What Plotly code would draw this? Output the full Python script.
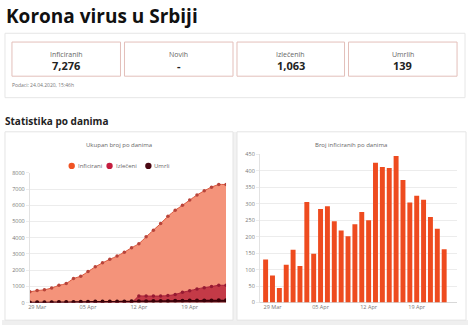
import plotly.graph_objects as go
import pandas as pd

W, H = 468, 329

# ---- data ----
line_dates = pd.date_range("2020-03-28", "2020-04-24", freq="D")
infected = [659, 741, 785, 900, 1060, 1171, 1476, 1624, 1908, 2200, 2447, 2666, 2867, 3105,
            3380, 3630, 4054, 4465, 4873, 5318, 5690, 5994, 6318, 6630, 6890, 7114, 7276, 7276]
recovered = [0, 0, 0, 0, 0, 0, 0, 0, 0, 0, 0, 0, 0, 0,
             0, 400, 400, 400, 400, 430, 500, 630, 730, 840, 920, 990, 1063, 1063]
deaths = [10, 13, 16, 23, 28, 31, 39, 44, 51, 58, 61, 65, 66, 71,
          74, 80, 85, 94, 99, 103, 110, 117, 122, 125, 130, 134, 139, 139]

bar_dates = pd.date_range("2020-03-28", "2020-04-23", freq="D")
daily_new = [131, 82, 44, 115, 160, 111, 305, 148, 284, 292, 247, 219, 201, 238,
             275, 250, 424, 411, 408, 445, 372, 304, 324, 312, 260, 224, 162]

card_labels = ["Inficiranih", "Novih", "Izlečenih", "Umrlih"]
card_values = ["7,276", "-", "1,063", "139"]
legend_labels = ["Inficirani", "Izlečeni", "Umrli"]

FONT = "Open Sans"

def px(x):
    return x / W

def py(y):
    return 1 - y / H

fig = go.Figure()

# ---- left chart traces ----
fig.add_trace(go.Scatter(
    x=line_dates, y=infected, mode="lines+markers", fill="tozeroy",
    fillcolor="#f4937a", line=dict(color="#d9583f", width=1, shape="spline", smoothing=0.6),
    marker=dict(size=3.5, color="#b8443a"), xaxis="x", yaxis="y", showlegend=False))
fig.add_trace(go.Scatter(
    x=line_dates, y=recovered, mode="lines+markers", fill="tozeroy",
    fillcolor="#c43a47", line=dict(color="#a8213a", width=1, shape="spline", smoothing=0.5),
    marker=dict(size=3.5, color="#961a32"), xaxis="x", yaxis="y", showlegend=False))
fig.add_trace(go.Scatter(
    x=line_dates, y=deaths, mode="lines+markers", fill="tozeroy",
    fillcolor="#4d0a12", line=dict(color="#3a0008", width=1.2, shape="spline", smoothing=0.6),
    marker=dict(size=4, color="#3a0008"), xaxis="x", yaxis="y", showlegend=False))

# ---- right chart ----
fig.add_trace(go.Bar(
    x=bar_dates, y=daily_new, marker=dict(color="#ee4b1f", line=dict(width=0)),
    width=0.72 * 86400000, xaxis="x2", yaxis="y2", showlegend=False))

tickfont = dict(family=FONT, size=5.5, color="#777")
grid = "#ececec"

fig.update_layout(
    width=W, height=H, margin=dict(l=0, r=0, t=0, b=0),
    paper_bgcolor="white", plot_bgcolor="rgba(0,0,0,0)",
    xaxis=dict(domain=[px(28), px(225)], anchor="y", type="date",
               range=["2020-03-28", "2020-04-24"],
               tick0="2020-03-29", dtick=7 * 86400000, tickformat="%d %b",
               tickfont=tickfont, showgrid=False, zeroline=False, showline=False,
               ticks="", ticklen=0),
    yaxis=dict(domain=[py(306), py(173)], anchor="x", range=[0, 8000], dtick=1000,
               tickfont=tickfont, gridcolor=grid, gridwidth=1, zeroline=True,
               zerolinecolor="#d8d8d8", zerolinewidth=1, showline=True,
               linecolor="#e2e2e2", linewidth=1,
               ticks="outside", ticklen=3, tickcolor=grid),
    xaxis2=dict(domain=[px(259), px(457)], anchor="y2", type="date",
                range=["2020-03-27 04:00", "2020-04-24 21:00"],
                tick0="2020-03-29", dtick=7 * 86400000, tickformat="%d %b",
                tickfont=tickfont, showgrid=False, zeroline=False, showline=False,
                ticks="", ticklen=0),
    yaxis2=dict(domain=[py(306), py(154)], anchor="x2", range=[0, 450], dtick=50,
                tickfont=tickfont, gridcolor=grid, gridwidth=1, zeroline=True,
                zerolinecolor="#d8d8d8", zerolinewidth=1, showline=True,
                linecolor="#e2e2e2", linewidth=1,
                ticks="outside", ticklen=3, tickcolor=grid),
    bargap=0.25,
)

shapes = []
annotations = []

# outer stats panel
shapes.append(dict(type="rect", xref="paper", yref="paper", x0=px(3), x1=px(465),
                   y0=py(96), y1=py(30), line=dict(color="#e6e6e6", width=1),
                   fillcolor="white", layer="below"))
# cards
card_x = [(10, 119), (123, 232), (236, 344), (348, 457)]
for (x0, x1), lab, val in zip(card_x, card_labels, card_values):
    shapes.append(dict(type="rect", xref="paper", yref="paper", x0=px(x0), x1=px(x1),
                       y0=py(74), y1=py(39), line=dict(color="#e3bfba", width=1),
                       fillcolor="white", layer="below"))
    cx = px((x0 + x1) / 2)
    annotations.append(dict(x=cx, y=py(51.5), xref="paper", yref="paper", text=lab,
                            showarrow=False, xanchor="center", yanchor="middle",
                            font=dict(family=FONT, size=7, color="#666")))
    annotations.append(dict(x=cx, y=py(63.5), xref="paper", yref="paper",
                            text="<b>" + val + "</b>", showarrow=False,
                            xanchor="center", yanchor="middle",
                            font=dict(family=FONT, size=11, color="#222")))

# bottom gray band and chart cards
shapes.append(dict(type="rect", xref="paper", yref="paper", x0=0, x1=1,
                   y0=0, y1=py(324), line=dict(width=0), fillcolor="#efefef", layer="below"))
shapes.append(dict(type="rect", xref="paper", yref="paper", x0=px(232), x1=px(236),
                   y0=py(324), y1=py(131), line=dict(width=0), fillcolor="#f2f2f2", layer="below"))
for x0, x1 in [(3, 232), (236, 466)]:
    shapes.append(dict(type="rect", xref="paper", yref="paper", x0=px(x0), x1=px(x1),
                       y0=py(324), y1=py(131), line=dict(color="#e4e4e4", width=1),
                       fillcolor="white", layer="below"))

# titles
annotations.append(dict(x=px(2), y=py(12), xref="paper", yref="paper",
                        text="<b>Korona virus u Srbiji</b>", showarrow=False,
                        xanchor="left", yanchor="middle",
                        font=dict(family=FONT, size=19, color="#111")))
annotations.append(dict(x=px(8), y=py(83.5), xref="paper", yref="paper",
                        text="Podaci: 24.04.2020, 15:46h", showarrow=False,
                        xanchor="left", yanchor="middle",
                        font=dict(family=FONT, size=5, color="#777")))
annotations.append(dict(x=px(1), y=py(120), xref="paper", yref="paper",
                        text="<b>Statistika po danima</b>", showarrow=False,
                        xanchor="left", yanchor="middle",
                        font=dict(family=FONT, size=10, color="#222")))
annotations.append(dict(x=px(117), y=py(145), xref="paper", yref="paper",
                        text="Ukupan broj po danima", showarrow=False,
                        xanchor="center", yanchor="middle",
                        font=dict(family=FONT, size=6, color="#666")))
annotations.append(dict(x=px(350), y=py(145), xref="paper", yref="paper",
                        text="Broj inficiranih po danima", showarrow=False,
                        xanchor="center", yanchor="middle",
                        font=dict(family=FONT, size=6, color="#666")))

# legend (left chart)
leg_x = [70, 108, 147]
leg_colors = ["#f05323", "#c41e3f", "#4a0812"]
for lx, lc, lt in zip(leg_x, leg_colors, legend_labels):
    shapes.append(dict(type="circle", xref="paper", yref="paper",
                       x0=px(lx - 3.2), x1=px(lx + 3.2), y0=py(166 + 3.2), y1=py(166 - 3.2),
                       fillcolor=lc, line=dict(width=0)))
    annotations.append(dict(x=px(lx + 4), y=py(166), xref="paper", yref="paper",
                            text=lt, showarrow=False, xanchor="left", yanchor="middle",
                            font=dict(family=FONT, size=6, color="#666")))

fig.update_layout(shapes=shapes, annotations=annotations)
fig.write_html("out.html")
